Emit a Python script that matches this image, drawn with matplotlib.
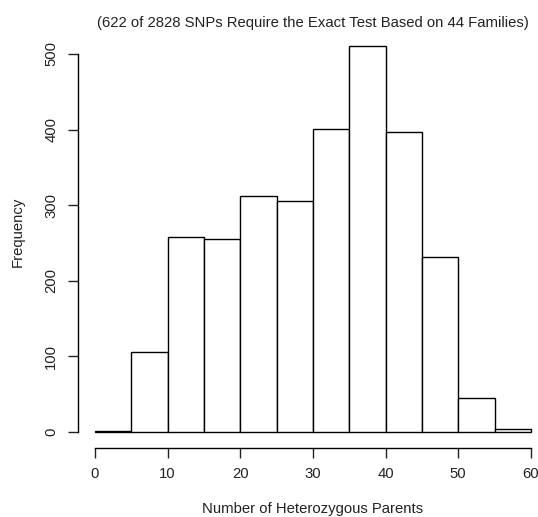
import matplotlib
matplotlib.use("Agg")
import matplotlib.pyplot as plt
import numpy as np

plt.rcParams['font.family'] = ['Liberation Sans', 'DejaVu Sans']

# Histogram of heterozygous-parent counts, 5-wide bins
bin_edges = [0, 5, 10, 15, 20, 25, 30, 35, 40, 45, 50, 55, 60]
counts = [1, 106, 258, 255, 312, 306, 401, 511, 397, 232, 45, 4]
x_ticks = [0, 10, 20, 30, 40, 50, 60]
y_ticks = [0, 100, 200, 300, 400, 500]

title = "(622 of 2828 SNPs Require the Exact Test Based on 44 Families)"
xlabel = "Number of Heterozygous Parents"
ylabel = "Frequency"

FS = 10.7
W, H = 538, 517
fig = plt.figure(figsize=(W / 100, H / 100), dpi=100)
left, right, top, bottom = 77.6, 548.3, 30.2, 447.5
ax = fig.add_axes([left / W, (H - bottom) / H, (right - left) / W, (bottom - top) / H])

edges = np.array(bin_edges, dtype=float)
ax.bar(edges[:-1], counts, width=np.diff(edges), align='edge',
       color='white', edgecolor='black', linewidth=1.0)

# R-style extended limits
x0, x1 = edges[0], edges[-1]
ymax = max(counts)
ax.set_xlim(x0 - 0.04 * (x1 - x0), x1 + 0.04 * (x1 - x0))
ax.set_ylim(-0.04 * ymax, ymax * 1.04)

for s in ('top', 'right'):
    ax.spines[s].set_visible(False)
ax.spines['left'].set_bounds(y_ticks[0], y_ticks[-1])
ax.spines['bottom'].set_bounds(x_ticks[0], x_ticks[-1])
for s in ('left', 'bottom'):
    ax.spines[s].set_linewidth(1.0)

ax.set_xticks(x_ticks)
ax.set_yticks(y_ticks)
ax.set_yticklabels([str(v) for v in y_ticks], rotation=90, va='center')
ax.tick_params(axis='both', direction='out', length=7, width=1.0,
               labelsize=FS, colors='#222222', pad=7)

ax.set_title(title, fontsize=FS, color='#222222', pad=2.5)
ax.set_xlabel(xlabel, fontsize=FS, color='#222222', labelpad=15)
ax.set_ylabel(ylabel, fontsize=FS, color='#222222')
ax.yaxis.set_label_coords(-0.112, 0.516)

fig.savefig("out.png", dpi=100)
